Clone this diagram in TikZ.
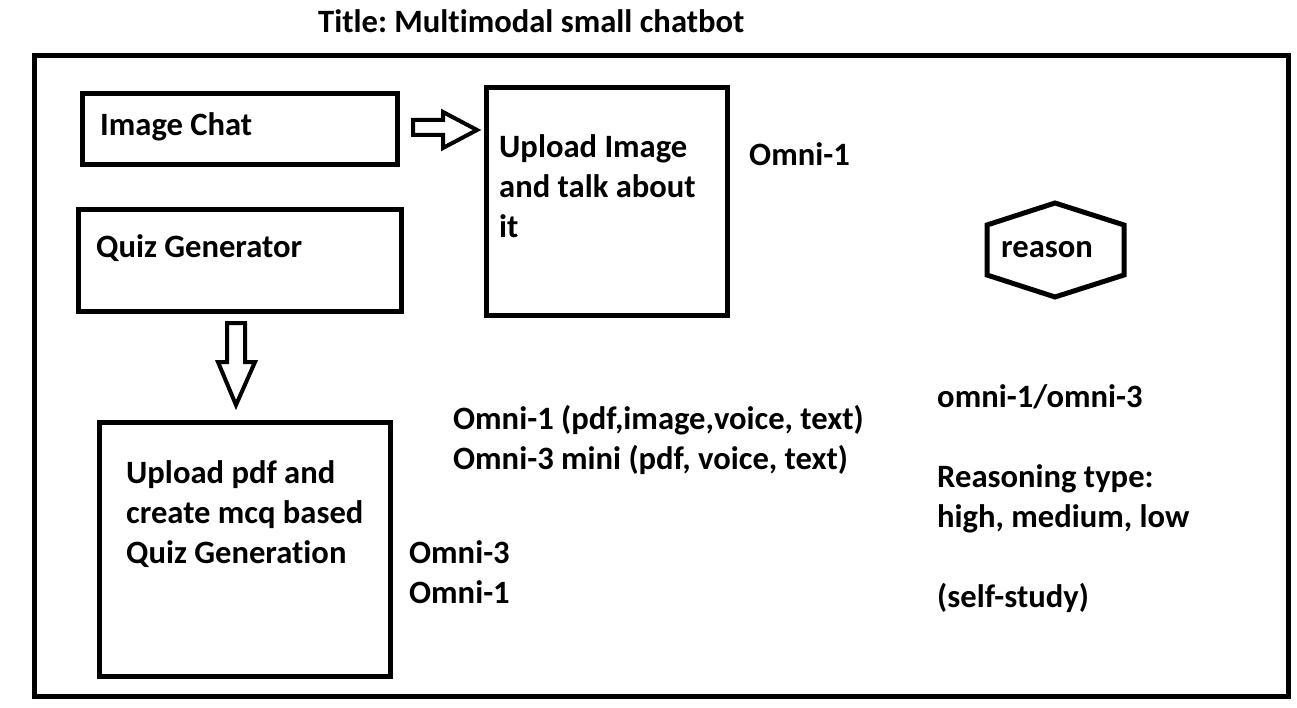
\documentclass[tikz,border=0pt]{standalone}
\usepackage{fontspec}
\setmainfont{Carlito}[Ligatures=NoCommon]
\usetikzlibrary{positioning}
\frenchspacing

\tikzset{
  box/.style={draw, line width=5pt, inner sep=0pt, anchor=north west},
  lbl/.style={anchor=base west, inner sep=0pt, align=left,
              font=\bfseries\fontsize{32.6}{40}\selectfont},
  blockarrow/.style={draw, line width=4pt, line join=miter},
}

\begin{document}
\begin{tikzpicture}[x=1pt, y=-1pt]
\useasboundingbox (0,0) rectangle (1297,708);

% Title
\node[lbl] (title) at (318,33) {Title: Multimodal small chatbot};

% Outer frame
\node[box, minimum width=1254.5pt, minimum height=641pt] (frame) at (31.5,53) {};

% Image Chat
\node[box, minimum width=315pt, minimum height=70.5pt] (chat) at (80,91.5) {};
\node[lbl] (chattxt) at (100,136) {Image Chat};

% Upload Image (base = last line)
\node[box, minimum width=241pt, minimum height=227.5pt] (upimg) at (484,85) {};
\node[lbl] (upimgtxt) at (499,238) {Upload Image\\and talk about\\it};
\node[lbl] (omnia) at (749,166) {Omni-1};

% arrow Image Chat -> Upload Image
\coordinate (ra) at (413,127.5);
\draw[blockarrow] (ra) ++(0,-7.5) -- ++(30,0) -- ++(0,-8) -- (477,130)
  -- (443,148) -- ++(0,-13) -- ++(-30,0) -- cycle;

% Quiz Generator
\node[box, minimum width=322.5pt, minimum height=102pt] (quiz) at (76,207) {};
\node[lbl] (quiztxt) at (96,258) {Quiz Generator};

% arrow Quiz Generator -> Upload pdf
\coordinate (da) at (236,323);
\draw[blockarrow] (da) ++(-9,0) -- ++(18,0) -- ++(0,39) -- ++(10,0) -- (236,405)
  -- (218,362) -- ++(9,0) -- cycle;

% Upload pdf
\node[box, minimum width=290.5pt, minimum height=254pt] (uppdf) at (97,420) {};
\node[lbl] (uppdftxt) at (126,563) {Upload pdf and\\create mcq based\\Quiz Generation};
\node[lbl] (omnib) at (409,603) {Omni-3\\Omni-1};

% models
\node[lbl] (models) at (453,469) {Omni-1 (pdf,image,voice, text)\\Omni-3 mini (pdf, voice, text)};

% reason
\draw[line width=5pt, line join=miter] (987,225) -- (1055,203) -- (1124,225)
  -- (1124,275) -- (1055,297) -- (987,275) -- cycle;
\node[lbl] (reason) at (1001,258) {reason};

\node[lbl] (omnic) at (937,407) {omni-1/omni-3};
\node[lbl] (rtype) at (937,527) {Reasoning type:\\high, medium, low};
\node[lbl] (self) at (937,607) {(self-study)};

\end{tikzpicture}
\end{document}
